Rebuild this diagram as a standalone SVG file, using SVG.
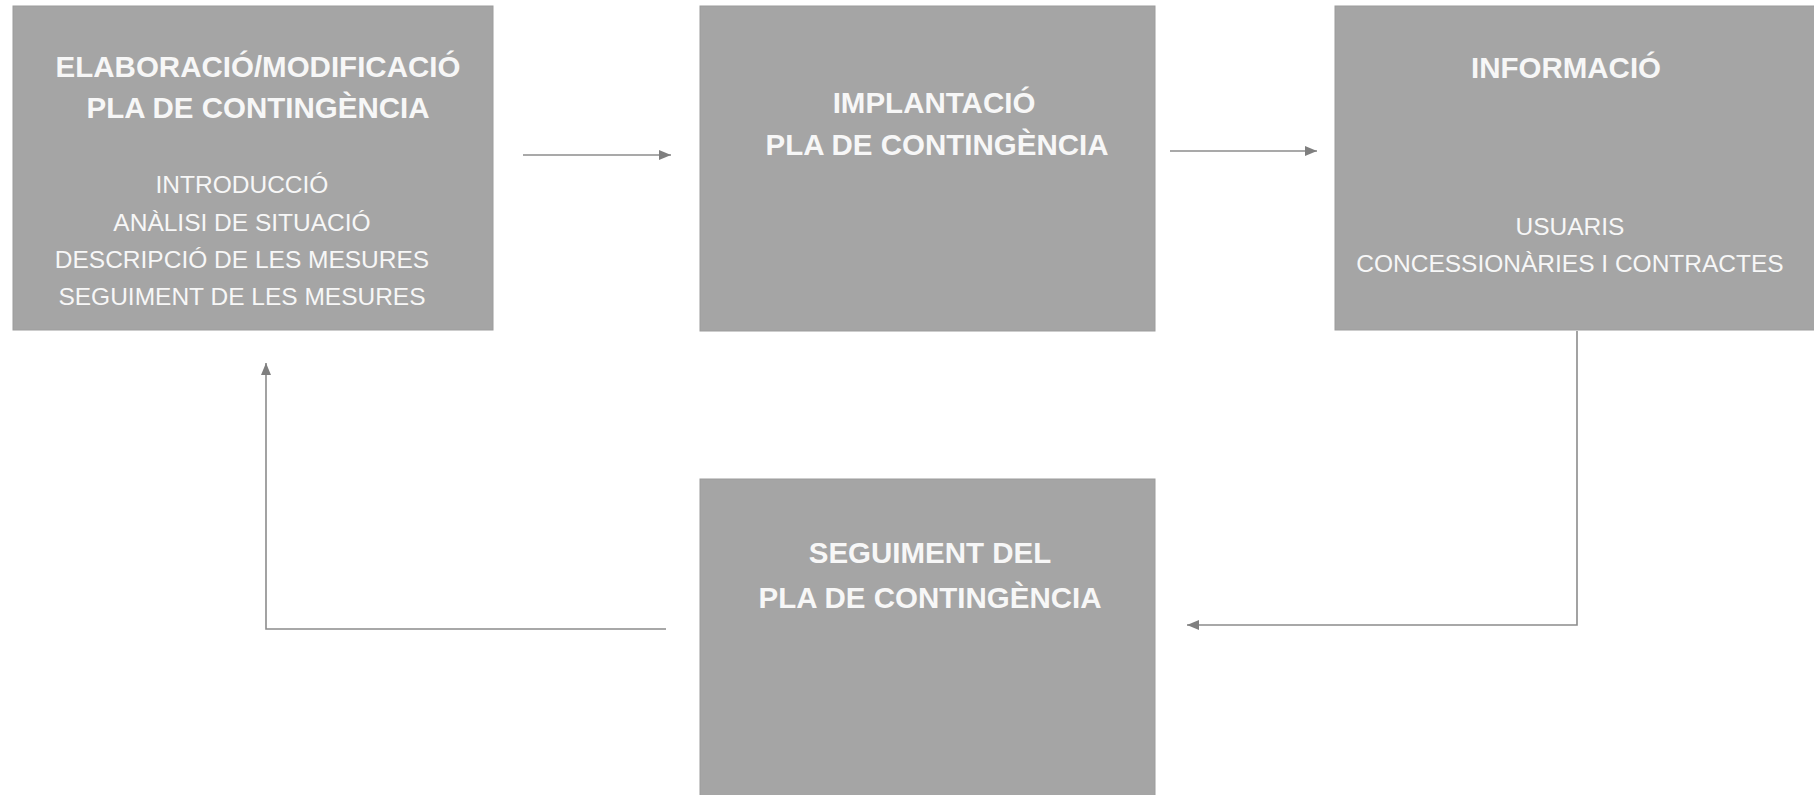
<svg xmlns="http://www.w3.org/2000/svg" width="1814" height="795" viewBox="0 0 1814 795">
<style>
.box{fill:#a5a5a5;stroke:#9c9c9c;stroke-width:1}
.t{font-family:"Liberation Sans",Arial,sans-serif;fill:#f7f7f7;text-anchor:middle}
.b{font-weight:bold;font-size:29.5px}
.r{font-size:24.5px}
.c{fill:none;stroke:#8c8c8c;stroke-width:1.6}
</style>
<defs>
<marker id="ah" viewBox="0 0 12 12" refX="12" refY="6" markerWidth="12" markerHeight="12" markerUnits="userSpaceOnUse" orient="auto">
<path d="M0,1 L12,6 L0,11 Z" fill="#7f7f7f"/>
</marker>
</defs>
<rect width="1814" height="795" fill="#ffffff"/>
<g id="n1">
<rect class="box" x="13" y="6" width="480" height="324"/>
<text class="t b" x="258" y="77">ELABORACIÓ/MODIFICACIÓ</text>
<text class="t b" x="258" y="118">PLA DE CONTINGÈNCIA</text>
<text class="t r" x="242" y="193">INTRODUCCIÓ</text>
<text class="t r" x="242" y="231">ANÀLISI DE SITUACIÓ</text>
<text class="t r" x="242" y="268">DESCRIPCIÓ DE LES MESURES</text>
<text class="t r" x="242" y="305">SEGUIMENT DE LES MESURES</text>
</g>
<g id="n2">
<rect class="box" x="700" y="6" width="455" height="325"/>
<text class="t b" x="934" y="113">IMPLANTACIÓ</text>
<text class="t b" x="937" y="155">PLA DE CONTINGÈNCIA</text>
</g>
<g id="n3">
<rect class="box" x="1335" y="6" width="480" height="324"/>
<text class="t b" x="1566" y="78">INFORMACIÓ</text>
<text class="t r" x="1570" y="235">USUARIS</text>
<text class="t r" x="1570" y="272">CONCESSIONÀRIES I CONTRACTES</text>
</g>
<g id="n4">
<rect class="box" x="700" y="479" width="455" height="320"/>
<text class="t b" x="930" y="563">SEGUIMENT DEL</text>
<text class="t b" x="930" y="608">PLA DE CONTINGÈNCIA</text>
</g>
<g id="connectors">
<path class="c" d="M523,155 H671" marker-end="url(#ah)"/>
<path class="c" d="M1170,151 H1317" marker-end="url(#ah)"/>
<path class="c" d="M1577,331 V625 H1187" marker-end="url(#ah)"/>
<path class="c" d="M666,629 H266 V363" marker-end="url(#ah)"/>
</g>
</svg>
